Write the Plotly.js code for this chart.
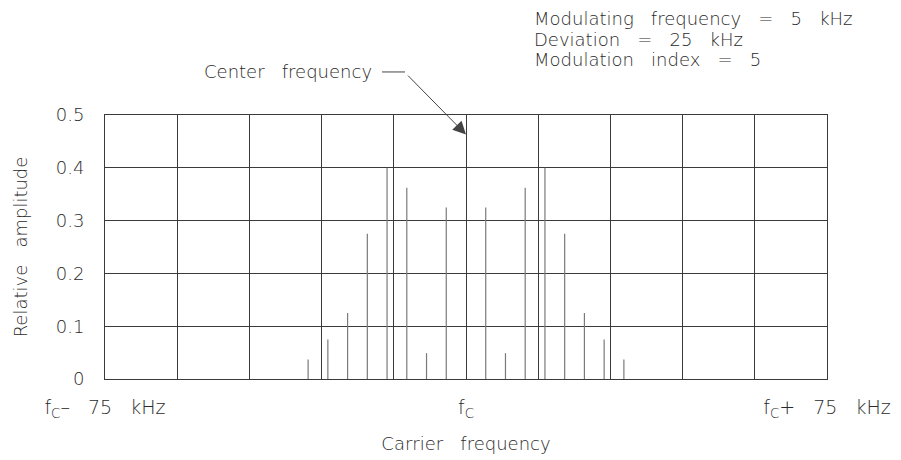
<!DOCTYPE html>
<html>
<head>
<meta charset="utf-8">
<script src="https://cdn.plot.ly/plotly-3.0.1.min.js"></script>
<style>html,body{margin:0;padding:0;background:#fff;}#chart{width:901px;height:460px;}</style>
</head>
<body>
<div id="chart"></div>
<script>
// Sideband offsets from the carrier (kHz) and their relative amplitudes
const offsetsKHz = [-32.8, -28.7, -24.6, -20.5, -16.4, -12.3, -8.2, -4.1,
                     4.1,   8.2,  12.3,  16.4,  20.5,  24.6,  28.7,  32.8];
const amplitudes = [0.037, 0.075, 0.125, 0.275, 0.400, 0.362, 0.049, 0.325,
                    0.325, 0.049, 0.362, 0.400, 0.275, 0.125, 0.075, 0.037];

const SP3 = '\u00a0\u00a0\u00a0';
const xTickVals = [-75, 0, 75];
const xTickText = ['f<sub>C</sub>\u2013' + SP3 + '75' + SP3 + 'kHz', 'f<sub>C</sub>', 'f<sub>C</sub>+' + SP3 + '75' + SP3 + 'kHz'];
const xGridStep = 15;
const yTickVals = [0, 0.1, 0.2, 0.3, 0.4, 0.5];
const yTickText = ['0', '0.1', '0.2', '0.3', '0.4', '0.5'];

const infoLines = ['Modulating' + SP3 + 'frequency' + SP3 + '=' + SP3 + '5' + SP3 + 'kHz',
                   'Deviation' + SP3 + '=' + SP3 + '25' + SP3 + 'kHz',
                   'Modulation' + SP3 + 'index' + SP3 + '=' + SP3 + '5'];
const infoY = [1.412, 1.334, 1.258];

// build vertical spectral lines from the data arrays
const lx = [], ly = [];
offsetsKHz.forEach((x, i) => { lx.push(x, x, null); ly.push(0, amplitudes[i], null); });

const FONT = 'DejaVu Sans, Liberation Sans, sans-serif';
const TXT = '#2a2a2a';
const GRID = '#3a3a3a';

const trace = {
  x: lx, y: ly, type: 'scatter', mode: 'lines',
  line: {color: '#7a7a7a', width: 1.2},
  hoverinfo: 'skip', showlegend: false
};

const annotations = infoLines.map((t, i) => ({
  xref: 'paper', yref: 'paper', x: 0.592, y: infoY[i], xanchor: 'left', yanchor: 'top',
  text: t, align: 'left', showarrow: false,
  font: {family: FONT, size: 18, color: TXT, weight: 200}
}));
annotations.push(
  {xref: 'paper', yref: 'paper', x: 0.373, y: 1.163, xanchor: 'right', yanchor: 'middle',
   text: 'Center' + SP3 + 'frequency', showarrow: false,
   font: {family: FONT, size: 18, color: TXT, weight: 200}},
  {xref: 'x', yref: 'y', x: 0, y: 0.463, text: ' ', showarrow: true,
   ax: -62, ay: -63, axref: 'pixel', ayref: 'pixel',
   arrowhead: 2, arrowsize: 2.6, arrowwidth: 1, arrowcolor: '#444', standoff: 0}
);

const layout = {
  width: 901, height: 460,
  margin: {l: 105, r: 74, t: 115, b: 81},
  paper_bgcolor: '#fff', plot_bgcolor: '#fff',
  font: {family: FONT, size: 17, color: TXT, weight: 200},
  showlegend: false,
  xaxis: {
    range: [-75, 75], tickvals: xTickVals, ticktext: xTickText,
    showgrid: true, gridcolor: GRID, gridwidth: 1,
    minor: {tick0: -75, dtick: xGridStep, showgrid: true, gridcolor: GRID, gridwidth: 1, ticks: ''},
    showline: true, mirror: true, linecolor: GRID, linewidth: 1,
    zeroline: false, ticks: '', ticklabelstandoff: 11,
    tickfont: {family: FONT, size: 19, color: TXT, weight: 200},
    title: {text: 'Carrier' + SP3 + 'frequency', standoff: 17, font: {family: FONT, size: 18, color: TXT, weight: 200}},
    fixedrange: true
  },
  yaxis: {
    range: [0, 0.5], tickvals: yTickVals, ticktext: yTickText,
    showgrid: true, gridcolor: GRID, gridwidth: 1,
    showline: true, mirror: true, linecolor: GRID, linewidth: 1,
    zeroline: false, ticks: '', ticklabelstandoff: 16,
    tickfont: {family: FONT, size: 18, color: TXT, weight: 200},
    title: {text: 'Relative' + SP3 + 'amplitude', standoff: 23, font: {family: FONT, size: 18, color: TXT, weight: 200}},
    fixedrange: true
  },
  annotations: annotations,
  shapes: [
    {type: 'line', xref: 'paper', yref: 'paper', x0: 0.3837, x1: 0.4155, y0: 1.163, y1: 1.163,
     line: {color: '#444', width: 1}}
  ]
};

Plotly.newPlot('chart', [trace], layout, {staticPlot: true, displayModeBar: false});
</script>
</body>
</html>
